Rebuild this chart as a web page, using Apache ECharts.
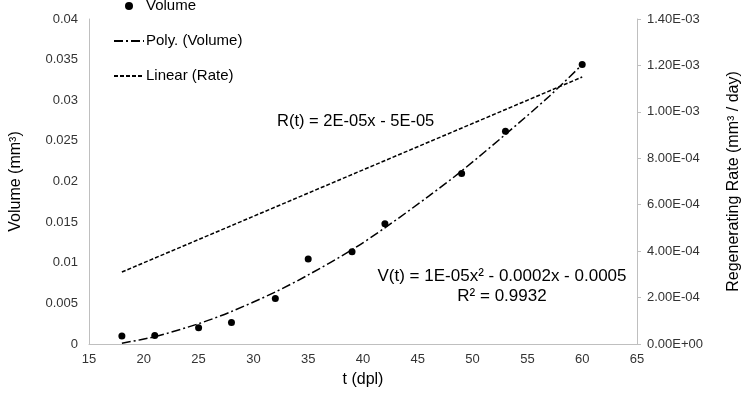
<!DOCTYPE html>
<html>
<head>
<meta charset="utf-8">
<script src="https://cdn.jsdelivr.net/npm/echarts@6/dist/echarts.min.js"></script>
<style>
  html, body { margin: 0; padding: 0; background: #fff; }
  #chart { width: 750px; height: 393px; }
</style>
</head>
<body>
<div id="chart"></div>
<script>
// measured volume points
const tDays = [18, 21, 25, 28, 32, 35, 39, 42, 49, 53, 60]
const volume = [0.00098, 0.00106, 0.0020, 0.00264, 0.0056, 0.01045, 0.01134, 0.0148, 0.0210, 0.0262, 0.0344]

// poly trendline
const polyT = [18, 21, 25, 28, 32, 35, 39, 42, 46, 49, 53, 57, 60]
const polyV = [0.0001, 0.0009, 0.0025, 0.0040, 0.0064, 0.0085, 0.0116, 0.0143, 0.0182, 0.0213, 0.0258, 0.0305, 0.0344]

// linear rate trendline (right axis)
const rateT = [18, 60]
const rate = [0.00031, 0.00115]

const font = '"Liberation Sans", Arial, sans-serif'

function sci(v) {
    let parts = v.toExponential(2).split('e')
    let sign = parts[1][0]
    let digits = parts[1].slice(1).padStart(2, '0')
    return parts[0] + 'E' + sign + digits
}

const zip = (xs, ys) => xs.map((x, i) => [x, ys[i]])

let chart = echarts.init(document.getElementById('chart'))
let option = {
    animation: false,
    textStyle: { fontFamily: font },
    grid: { left: 74, right: 100, top: 19, bottom: 46 },
    legend: {
        orient: 'vertical',
        left: 108,
        top: -8,
        itemWidth: 30,
        itemHeight: 8,
        itemGap: 17,
        textStyle: { fontSize: 15, color: '#000', fontFamily: font, lineHeight: 18, padding: [0, 0, 0, -3] },
        data: [
            { name: 'Volume' },
            { name: 'Poly. (Volume)', itemStyle: { opacity: 0 } },
            { name: 'Linear (Rate)', itemStyle: { opacity: 0 } }
        ]
    },
    xAxis: {
        type: 'value',
        min: 15, max: 65, interval: 5,
        name: 't (dpl)',
        nameLocation: 'middle',
        nameGap: 28,
        nameTextStyle: { fontSize: 16, color: '#000', fontFamily: font },
        axisLine: { lineStyle: { color: '#bfbfbf' } },
        axisTick: { show: false },
        splitLine: { show: false },
        axisLabel: { fontSize: 13, color: '#333', margin: 9 }
    },
    yAxis: [
        {
            type: 'value',
            min: 0, max: 0.04, interval: 0.005,
            name: 'Volume (mm³)',
            nameLocation: 'middle',
            nameGap: 65,
            nameTextStyle: { fontSize: 16, color: '#000', fontFamily: font },
            axisLine: { show: true, lineStyle: { color: '#bfbfbf' } },
            axisTick: { show: false },
            splitLine: { show: false },
            axisLabel: { fontSize: 13, color: '#333', margin: 11 }
        },
        {
            type: 'value',
            position: 'right',
            min: 0, max: 0.0014, interval: 0.0002,
            name: 'Regenerating Rate (mm³ / day)',
            nameLocation: 'middle',
            nameGap: 89,
            nameRotate: 90,
            nameTextStyle: { fontSize: 16, color: '#000', fontFamily: font },
            axisLine: { show: true, lineStyle: { color: '#bfbfbf' } },
            axisTick: { show: true, length: 4, lineStyle: { color: '#bfbfbf' } },
            splitLine: { show: false },
            axisLabel: { fontSize: 13, color: '#333', margin: 10, formatter: sci }
        }
    ],
    series: [
        {
            name: 'Volume',
            type: 'scatter',
            data: zip(tDays, volume),
            symbol: 'circle',
            symbolSize: 7,
            itemStyle: { color: '#000', opacity: 1 },
            z: 5
        },
        {
            name: 'Poly. (Volume)',
            type: 'line',
            data: zip(polyT, polyV),
            smooth: 0.3,
            symbol: 'none',
            itemStyle: { color: '#000' },
            lineStyle: { color: '#000', width: 1.5, type: [9, 3, 2, 3] }
        },
        {
            name: 'Linear (Rate)',
            type: 'line',
            yAxisIndex: 1,
            data: zip(rateT, rate),
            symbol: 'none',
            itemStyle: { color: '#000' },
            lineStyle: { color: '#000', width: 1.5, type: [4, 2] }
        }
    ],
    graphic: [
        {
            type: 'text',
            left: 277,
            top: 113,
            style: { text: 'R(t) = 2E-05x - 5E-05', font: '16.5px ' + font, fill: '#000' }
        },
        {
            type: 'text',
            x: 502,
            y: 266,
            style: {
                text: 'V(t) = 1E-05x² - 0.0002x - 0.0005\nR² = 0.9932',
                font: '17px ' + font,
                fill: '#000',
                align: 'center',
                lineHeight: 20
            }
        }
    ]
}
chart.setOption(option)
</script>
</body>
</html>
